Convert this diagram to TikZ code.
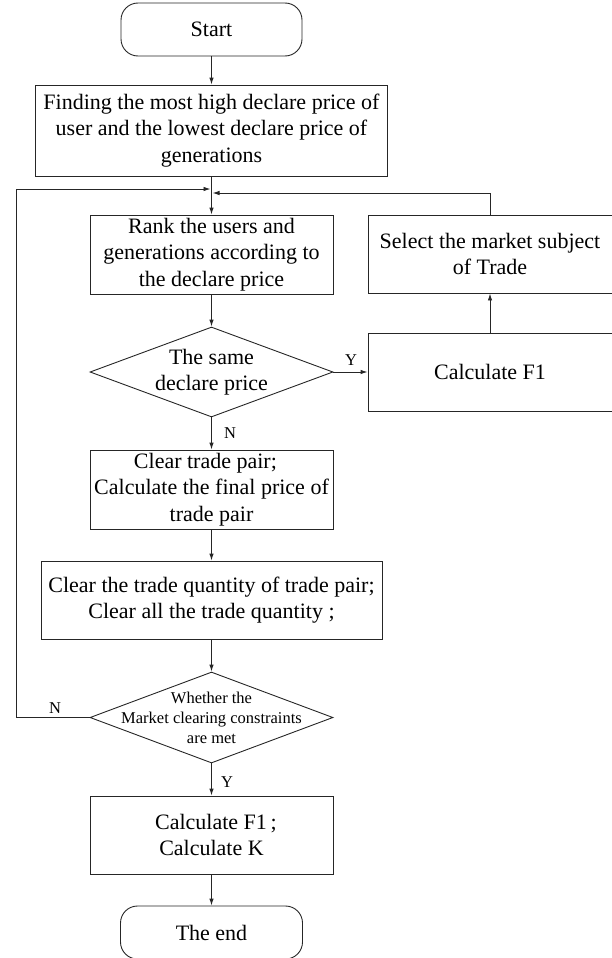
\documentclass[tikz,border=0pt]{standalone}
\usepackage{fontspec}
\setmainfont{Liberation Serif}
\usetikzlibrary{shapes.geometric,arrows.meta}
\begin{document}
\begin{tikzpicture}[x=1pt,y=-1pt,
  lc/.style={draw=black!85, line width=0.9pt},
  box/.style={lc, rectangle, inner sep=0pt, align=center, font=\fontsize{22}{26.5}\selectfont},
  term/.style={box, rounded corners=17pt},
  dia/.style={lc, diamond, inner sep=0pt},
  lbl/.style={inner sep=0pt, align=center, font=\fontsize{16.5}{20}\selectfont},
  maintxt/.style={inner sep=0pt, align=center, font=\fontsize{22}{26.5}\selectfont},
  arr/.style={lc, -{Latex[length=7pt,width=4.5pt]}},
  ln/.style={lc}
]
\useasboundingbox (0,0) rectangle (611,958);

\node[term, minimum width=181pt, minimum height=53pt] (start) at (211.5,29.5) {Start};
\node[box, minimum width=352pt, minimum height=91pt] (find) at (211.5,130.5)
  {Finding the most high declare price of\\user and the lowest declare price of\\generations};
\node[box, minimum width=243pt, minimum height=79pt] (rank) at (211.5,254.5)
  {Rank the users and\\generations according to\\the declare price};
\node[box, minimum width=244pt, minimum height=78pt] (select) at (490,254)
  {Select the market subject\\of Trade};
\node[box, minimum width=244pt, minimum height=78pt] (calcF) at (490,372) {Calculate F1};
\node[dia, minimum width=243pt, minimum height=90pt] (d1) at (211.5,372) {};
\node[maintxt] (d1t) at (d1.center) {The same\\declare price};
\node[box, minimum width=243pt, minimum height=79pt] (clr1) at (211.5,489.5)
  {Clear trade pair;\hspace*{0.55em}\\Calculate the final price of\\trade pair};
\node[box, minimum width=341pt, minimum height=78pt] (clr2) at (211.5,600)
  {Clear the trade quantity of trade pair;\\Clear all the trade quantity ;};
\node[dia, minimum width=243pt, minimum height=91pt] (d2) at (211.5,717.5) {};
\node[lbl] (d2t) at (d2.center) {Whether the\\Market clearing constraints\\are met};
\node[box, minimum width=243pt, minimum height=78pt] (calc) at (211.5,835)
  {\hspace*{0.4em}Calculate F1\,;\\Calculate K};
\node[term, minimum width=182pt, minimum height=53pt] (end) at (211.5,932.5) {The end};

\coordinate (mL) at (210.5,189);
\coordinate (mR) at (212.5,193);
\coordinate (lcorner) at (16,189);

\draw[arr] (start) -- (find);
\draw[arr] (find) -- (rank);
\draw[arr] (rank) -- (d1);
\draw[arr] (d1.east) -- (calcF.west);
\draw[arr] (calcF) -- (select);
\draw[arr] (select.north) |- (mR);
\draw[arr] (d1.south) -- (clr1.north);
\draw[arr] (clr1) -- (clr2);
\draw[arr] (clr2) -- (d2.north);
\draw[arr] (d2.west) -| (lcorner) -- (mL);
\draw[arr] (d2.south) -- (calc.north);
\draw[arr] (calc) -- (end);

\node[lbl] (yl1) at (351,360) {Y};
\node[lbl] (nl1) at (230,433) {N};
\node[lbl] (nl2) at (55,708) {N};
\node[lbl] (yl2) at (227,782) {Y};
\end{tikzpicture}
\end{document}
